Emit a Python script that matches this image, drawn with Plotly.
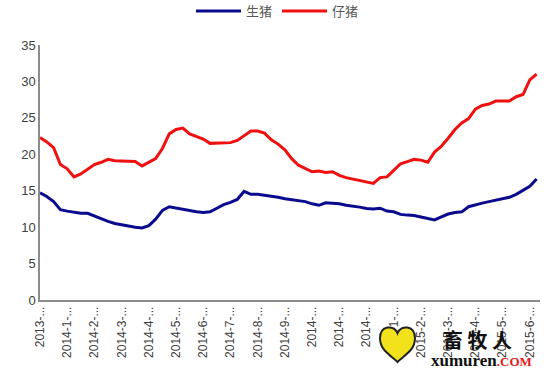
import plotly.graph_objects as go

series_names = ["生猪", "仔猪"]

hog = [14.7, 14.2, 13.5, 12.4, 12.2, 12.0, 11.9, 11.9, 11.5, 11.1,
       10.8, 10.5, 10.3, 10.1, 10.0, 9.9, 10.2, 11.1, 12.3, 12.8,
       12.6, 12.4, 12.3, 12.1, 12.0, 12.1, 12.6, 13.1, 13.4, 13.8,
       14.9, 14.5, 14.5, 14.4, 14.3, 14.1, 13.9, 13.8, 13.6, 13.5,
       13.2, 13.0, 13.35, 13.3, 13.2, 13.0, 12.9, 12.75, 12.55, 12.5,
       12.6, 12.2, 12.1, 11.75, 11.65, 11.6, 11.4, 11.2, 11.0, 11.4,
       11.8, 12.0, 12.1, 12.8, 13.1, 13.3, 13.5, 13.7, 13.9, 14.1,
       14.5, 15.0, 15.6, 16.6]

piglet = [22.3, 21.7, 20.9, 18.6, 18.0, 16.9, 17.3, 17.9, 18.6, 18.9,
          19.3, 19.1, 19.1, 19.1, 19.0, 18.4, 18.9, 19.4, 20.8, 22.8,
          23.4, 23.6, 22.8, 22.5, 22.1, 21.5, 21.5, 21.5, 21.6, 21.9,
          22.5, 23.2, 23.2, 22.9, 22.0, 21.4, 20.6, 19.4, 18.5, 18.0,
          17.6, 17.7, 17.5, 17.6, 17.1, 16.8, 16.6, 16.4, 16.2, 16.0,
          16.8, 16.9, 17.8, 18.7, 19.0, 19.3, 19.2, 18.9, 20.3, 21.1,
          22.2, 23.4, 24.3, 24.9, 26.2, 26.7, 26.9, 27.3, 27.3, 27.3,
          27.9, 28.2, 30.2, 31.0]

tick_labels = ["2013-...", "2014-1-...", "2014-2-...", "2014-3-...", "2014-4-...",
               "2014-5-...", "2014-6-...", "2014-7-...", "2014-8-...", "2014-9-...",
               "2014-...", "2014-...", "2014-...", "2015-1-...", "2015-2-...",
               "2015-3-...", "2015-4-...", "2015-5-...", "2015-6-..."]
tick_every = 4

y_ticks = [0, 5, 10, 15, 20, 25, 30, 35]

x = list(range(len(hog)))
tick_pos = [i * tick_every for i in range(len(tick_labels))]

fig = go.Figure()
fig.add_trace(go.Scatter(x=x, y=hog, mode="lines", name=series_names[0],
                         line=dict(color="#0A0A8F", width=3)))
fig.add_trace(go.Scatter(x=x, y=piglet, mode="lines", name=series_names[1],
                         line=dict(color="#F01010", width=3)))

fig.update_layout(
    width=550, height=371,
    margin=dict(l=40, r=10, t=45, b=71, autoexpand=False),
    plot_bgcolor="white", paper_bgcolor="white",
    font=dict(family="Liberation Sans, DejaVu Sans, sans-serif", size=12, color="#404040"),
    showlegend=True,
    legend=dict(orientation="h", x=0.475, xanchor="center", y=1.133, yref="paper",
                yanchor="middle", font=dict(family="Noto Sans CJK SC", size=13, color="#595959"),
                itemwidth=45, tracegroupgap=0),
    xaxis=dict(range=[0, 73.5], tickmode="array", tickvals=tick_pos, ticktext=tick_labels,
               tickangle=-90, showgrid=False, zeroline=False, showline=True,
               linecolor="#8C8C8C", linewidth=1.5, ticks="", tickfont=dict(size=12),
               automargin=False),
    yaxis=dict(range=[0, 35], tickmode="array", tickvals=y_ticks, showgrid=False,
               zeroline=False, showline=True, linecolor="#8C8C8C", linewidth=1.5,
               ticks="", tickfont=dict(size=13), automargin=False),
)

# watermark
fig.add_shape(type="path", xref="paper", yref="paper",
              path="M 0.68 -0.15 C 0.68 -0.10, 0.708 -0.095, 0.715 -0.13 C 0.722 -0.095, 0.75 -0.10, 0.75 -0.15 C 0.75 -0.20, 0.726 -0.22, 0.715 -0.243 C 0.704 -0.22, 0.68 -0.20, 0.68 -0.15 Z",
              fillcolor="#F2E21C", line=dict(color="#222222", width=2), layer="above")
fig.add_annotation(xref="paper", yref="paper", x=0.874, y=-0.155, xanchor="center", yanchor="middle",
                   text="<b>畜 牧 人</b>", showarrow=False,
                   font=dict(family="Noto Sans CJK SC", size=20, color="#111111"))
fig.add_annotation(xref="paper", yref="paper", x=0.882, y=-0.238, xanchor="center", yanchor="middle",
                   text="<b>xumuren</b><b><span style='color:#E02020;font-size:13px'>.COM</span></b>",
                   showarrow=False,
                   font=dict(family="Liberation Serif", size=17, color="#111111"))

fig.write_html("out.html", config={"displayModeBar": False},
               post_script="document.body.style.margin='0';")
